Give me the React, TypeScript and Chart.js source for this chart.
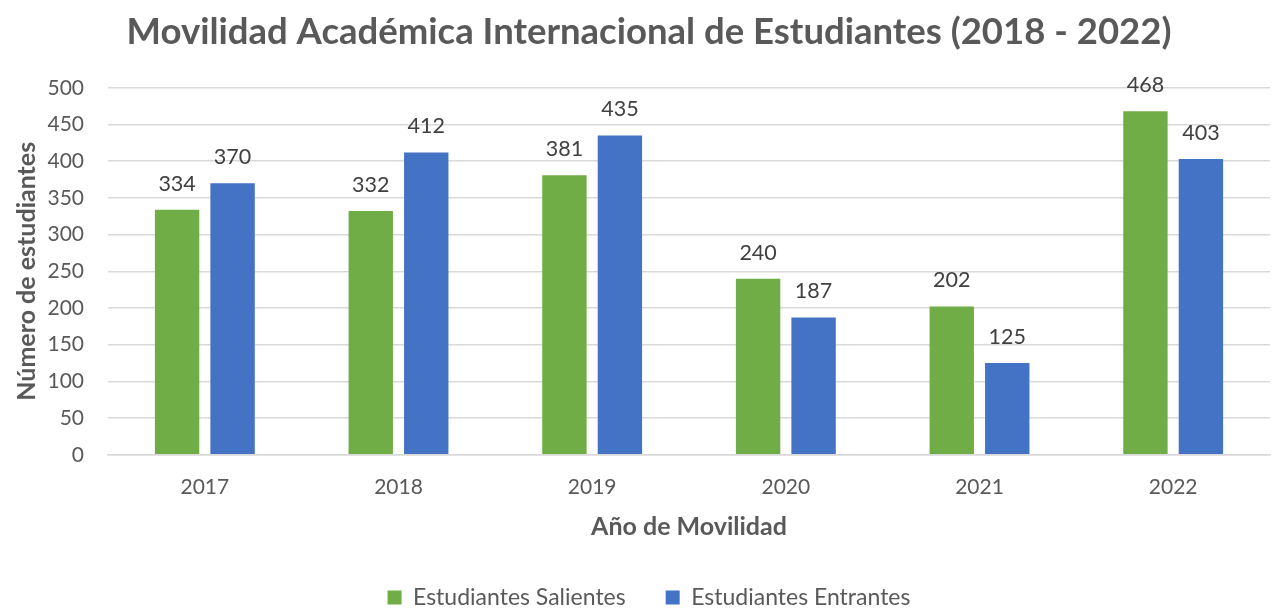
import React, { useEffect, useRef } from "react";
import { Chart, registerables } from "chart.js";

Chart.register(...registerables);

const years = ["2017", "2018", "2019", "2020", "2021", "2022"];
const salientes = [334, 332, 381, 240, 202, 468];
const entrantes = [370, 412, 435, 187, 125, 403];

const FONT = "Lato, 'Open Sans', sans-serif";
const TEXT = "#595959";

const dataLabels = {
  id: "dataLabels",
  afterDatasetsDraw(chart: any) {
    const ctx = chart.ctx;
    ctx.save();
    ctx.font = `21.5px ${FONT}`;
    ctx.fillStyle = "#404040";
    ctx.textAlign = "center";
    ctx.textBaseline = "middle";
    chart.data.datasets.forEach((ds: any, i: number) => {
      const meta = chart.getDatasetMeta(i);
      meta.data.forEach((el: any, j: number) => {
        ctx.fillText(String(ds.data[j]), el.x, el.y - 26);
      });
    });
    ctx.restore();
  },
};

export default function App() {
  const ref = useRef<HTMLCanvasElement | null>(null);
  useEffect(() => {
    if (!ref.current) return;
    const chart = new Chart(ref.current, {
      type: "bar",
      data: {
        labels: years,
        datasets: [
          { label: "Estudiantes Salientes", data: salientes, backgroundColor: "#70AD47", yAxisID: "y" },
          { label: "Estudiantes Entrantes", data: entrantes, backgroundColor: "#4472C4", yAxisID: "y" },
        ],
      },
      plugins: [dataLabels],
      options: {
        responsive: false,
        animation: false,
        layout: { padding: { left: 18, right: 0, top: 0, bottom: -10 } },
        datasets: { bar: { categoryPercentage: 0.573, barPercentage: 0.8 } },
        plugins: {
          title: {
            display: true,
            text: "Movilidad Académica Internacional de Estudiantes (2018 - 2022)",
            color: TEXT,
            font: { family: FONT, size: 36.5, weight: "bold" },
            padding: { top: 10, bottom: 34 },
          },
          legend: {
            position: "bottom",
            labels: {
              color: TEXT,
              font: { family: FONT, size: 23 },
              boxWidth: 14,
              boxHeight: 14,
              padding: 40,
            },
          },
          tooltip: { enabled: false },
        },
        scales: {
          x: {
            grid: { display: false },
            border: { display: true, color: "#d9d9d9", width: 1.5 },
            ticks: { color: TEXT, font: { family: FONT, size: 21 }, padding: 12 },
            title: {
              display: true,
              text: "Año de Movilidad",
              color: TEXT,
              font: { family: FONT, size: 25, weight: "bold" },
              padding: { top: 0, bottom: 4 },
            },
          },
          y: {
            min: 0,
            max: 500,
            afterFit(scale: any) {
              scale.width = 90;
            },
            grid: { color: "#d9d9d9", lineWidth: 1.5, drawTicks: false },
            border: { display: false },
            ticks: { stepSize: 50, color: TEXT, font: { family: FONT, size: 21 }, padding: 24 },
            title: {
              display: true,
              text: "Número de estudiantes",
              color: TEXT,
              font: { family: FONT, size: 25, weight: "bold" },
              padding: { top: -6, bottom: 8 },
            },
          },
          yRight: {
            type: "linear",
            position: "right",
            display: true,
            afterFit(scale: any) {
              scale.width = 10;
            },
            grid: { display: false, drawOnChartArea: false },
            border: { display: false },
            ticks: { display: false },
          },
        },
      },
    });
    return () => chart.destroy();
  }, []);
  return (
    <div style={{ position: "fixed", left: 0, top: 0, width: 1280, height: 609, background: "#fff" }}>
      <canvas ref={ref} width={1280} height={609} />
    </div>
  );
}
